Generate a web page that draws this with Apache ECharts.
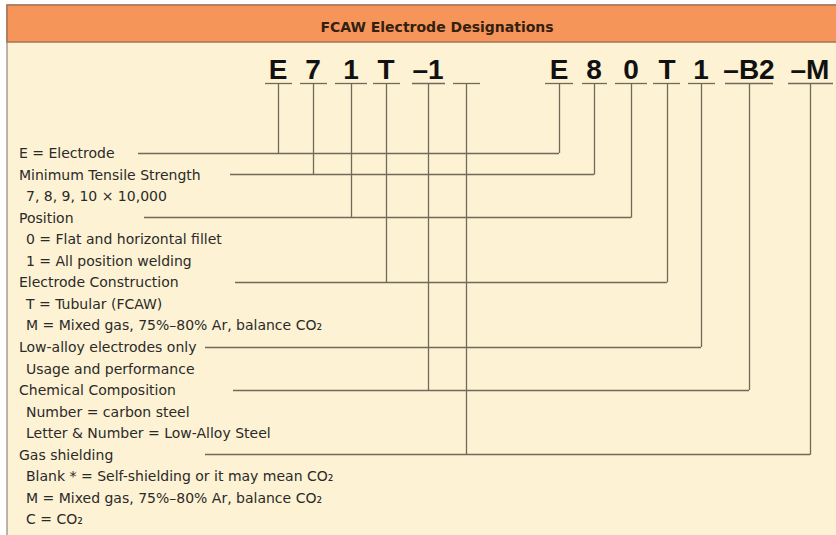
<!DOCTYPE html>
<html>
<head>
<meta charset="utf-8">
<script src="https://cdn.jsdelivr.net/npm/echarts@6/dist/echarts.min.js"></script>
<style>
html,body{margin:0;padding:0;background:#ffffff;}
#chart{width:836px;height:535px;}
</style>
</head>
<body>
<div id="chart"></div>
<script>
// ---- Data ----
const titleText = 'FCAW Electrode Designations';

// first designation: E71T-1 (plus a blank position)
const code1Chars = ['E', '7', '1', 'T', '–1', ''];
const code1Cols = [278, 313, 351, 386, 428, 466];
const code1Under = [[265, 292], [300, 327], [335, 367], [373, 400], [412, 445], [453, 480]];
const code1Rows = [0, 1, 3, 6, 11, 14];

// second designation: E80T1-B2-M
const code2Chars = ['E', '8', '0', 'T', '1', '–B2', '–M'];
const code2Cols = [559, 594, 631, 667, 701, 749, 810];
const code2Under = [[545, 573], [582, 607], [615, 647], [653, 680], [688, 715], [725, 773], [788, 833]];
const code2Rows = [0, 1, 3, 6, 9, 11, 14];

// description rows
const rowLabels = [
  'E = Electrode',
  'Minimum Tensile Strength',
  '7, 8, 9, 10 × 10,000',
  'Position',
  '0 = Flat and horizontal fillet',
  '1 = All position welding',
  'Electrode Construction',
  'T = Tubular (FCAW)',
  'M = Mixed gas, 75%–80% Ar, balance CO₂',
  'Low-alloy electrodes only',
  'Usage and performance',
  'Chemical Composition',
  'Number = carbon steel',
  'Letter & Number = Low-Alloy Steel',
  'Gas shielding',
  'Blank * = Self-shielding or it may mean CO₂',
  'M = Mixed gas, 75%–80% Ar, balance CO₂',
  'C = CO₂'
];
const rowIsSub = [0, 0, 1, 0, 1, 1, 0, 1, 1, 0, 1, 0, 1, 1, 0, 1, 1, 1];
// leader rows and where their horizontal leader begins
const leaderRows = [0, 1, 3, 6, 9, 11, 14];
const leaderStart = [138, 230, 144, 235, 205, 233, 205];

// ---- Layout ----
const W = 836, H = 535;
const rowTop = 153, rowStep = 21.55;
const codeY = 69, underY = 83;
const headX = 19, subX = 26;
const rowY = i => rowTop + i * rowStep;

const lineColor = '#6f6a5a';
const textColor = '#2a2a2a';
const fontFam = '"DejaVu Sans", "Liberation Sans", Arial, sans-serif';
const codeFont = '"Liberation Sans", Arial, Helvetica, sans-serif';

// build line segments
const segs = [];
code1Under.concat(code2Under).forEach(u => segs.push({coords: [[u[0], underY], [u[1], underY]]}));
code1Cols.forEach((x, k) => segs.push({coords: [[x, underY], [x, rowY(code1Rows[k])]]}));
code2Cols.forEach((x, k) => segs.push({coords: [[x, underY], [x, rowY(code2Rows[k])]]}));
leaderRows.forEach((r, k) => {
  let endX = 0;
  code1Rows.forEach((rr, j) => { if (rr === r) endX = Math.max(endX, code1Cols[j]); });
  code2Rows.forEach((rr, j) => { if (rr === r) endX = Math.max(endX, code2Cols[j]); });
  segs.push({coords: [[leaderStart[k], rowY(r)], [endX, rowY(r)]]});
});

const codeData = [];
code1Chars.forEach((c, k) => codeData.push({value: [code1Cols[k], codeY], name: c}));
code2Chars.forEach((c, k) => codeData.push({value: [code2Cols[k], codeY], name: c}));

const rowData = rowLabels.map((t, i) => ({value: [rowIsSub[i] ? subX : headX, rowY(i)], name: t}));

const chart = echarts.init(document.getElementById('chart'), null, {renderer: 'svg', width: W, height: H});
chart.setOption({
  animation: false,
  backgroundColor: '#ffffff',
  title: {
    text: titleText,
    left: 432,
    textAlign: 'center',
    top: 15,
    textStyle: {fontFamily: fontFam, fontSize: 14, fontWeight: 'bold', color: '#33200f'}
  },
  graphic: [
    {type: 'rect', z: -10, shape: {x: 7, y: 5, width: 840, height: 540},
     style: {fill: '#fdf2d3', stroke: '#8f877a', lineWidth: 1.2}},
    {type: 'rect', z: -9, shape: {x: 7, y: 5, width: 840, height: 37},
     style: {fill: '#f6955a', stroke: '#a37355', lineWidth: 1.5}}
  ],
  grid: {left: 0, right: 0, top: 0, bottom: 0},
  xAxis: {type: 'value', min: 0, max: W, show: false},
  yAxis: {type: 'value', min: 0, max: H, inverse: true, show: false},
  series: [
    {
      type: 'lines',
      coordinateSystem: 'cartesian2d',
      silent: true,
      lineStyle: {color: lineColor, width: 1.3, opacity: 1},
      data: segs,
      z: 2
    },
    {
      type: 'scatter',
      symbolSize: 0,
      silent: true,
      itemStyle: {opacity: 1},
      data: codeData,
      label: {
        show: true, position: [0, 0], align: 'center', verticalAlign: 'middle',
        formatter: p => p.name, opacity: 1,
        fontFamily: codeFont, fontSize: 28, fontWeight: 'bold', color: '#111111',
        textBorderWidth: 0
      },
      z: 3
    },
    {
      type: 'scatter',
      symbolSize: 0,
      silent: true,
      itemStyle: {opacity: 1},
      data: rowData,
      label: {
        show: true, position: 'right', distance: 0, formatter: p => p.name, opacity: 1,
        fontFamily: fontFam, fontSize: 14, color: textColor, textBorderWidth: 0
      },
      z: 3
    }
  ]
});
</script>
</body>
</html>
